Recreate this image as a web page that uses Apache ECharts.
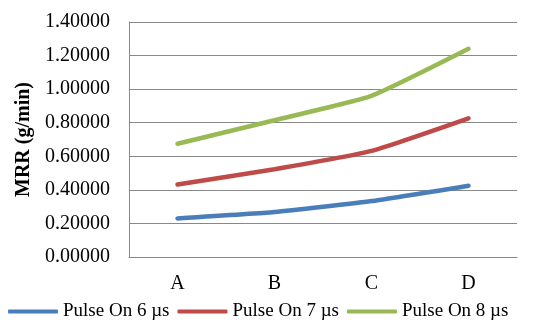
<!DOCTYPE html>
<html><head><meta charset="utf-8">
<script src="https://cdn.jsdelivr.net/npm/echarts@6/dist/echarts.min.js"></script>
<style>html,body{margin:0;padding:0;background:#fff}#c{width:554px;height:324px}</style>
</head><body><div id="c"></div>
<script>
const categories = ['A','B','C','D'];
const seriesNames = ['Pulse On 6 µs','Pulse On 7 µs','Pulse On 8 µs'];
const pulse6 = [0.230, 0.268, 0.333, 0.425];
const pulse7 = [0.432, 0.523, 0.632, 0.826];
const pulse8 = [0.675, 0.815, 0.960, 1.240];
const colors = ['#4a7ebb','#be4b48','#98b954'];
const font = '"Liberation Serif", "Times New Roman", serif';
const chart = echarts.init(document.getElementById('c'));
chart.setOption({
  animation:false,
  color: colors,
  grid:{left:129,right:37,top:22,bottom:67},
  legend:{
    top:302, left:8, padding:0, itemWidth:50, itemHeight:4, itemGap:8,
    icon:'roundRect',
    textStyle:{fontFamily:font,fontSize:19,color:'#000'},
    data: seriesNames
  },
  xAxis:{
    type:'category', data:categories, boundaryGap:true,
    axisLine:{lineStyle:{color:'#888',width:1}},
    axisTick:{show:false},
    axisLabel:{fontFamily:font,fontSize:20,color:'#000',margin:17}
  },
  yAxis:{
    type:'value', min:0, max:1.4, interval:0.2,
    name:'MRR (g/min)', nameLocation:'middle', nameGap:94,
    nameTextStyle:{fontFamily:font,fontSize:20,fontWeight:'bold',color:'#000'},
    axisLine:{show:true,lineStyle:{color:'#888',width:1}},
    axisTick:{show:false},
    splitLine:{lineStyle:{color:'#888',width:1}},
    axisLabel:{fontFamily:font,fontSize:20,color:'#000',margin:19,formatter:v=>v.toFixed(5)}
  },
  series:[
    {name:seriesNames[0],type:'line',data:pulse6,smooth:0.15,symbol:'none',lineStyle:{width:4.5,cap:'round'}},
    {name:seriesNames[1],type:'line',data:pulse7,smooth:0.15,symbol:'none',lineStyle:{width:4.5,cap:'round'}},
    {name:seriesNames[2],type:'line',data:pulse8,smooth:0.15,symbol:'none',lineStyle:{width:4.5,cap:'round'}}
  ]
});
</script></body></html>
